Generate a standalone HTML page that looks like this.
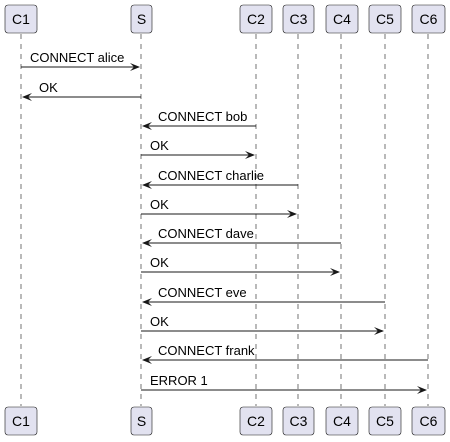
<!DOCTYPE html>
<html><head><style>body{margin:0;background:#fff}svg{display:block}text{font-family:"Liberation Sans",sans-serif;fill:#000}</style></head><body>
<svg width="450" height="442" xmlns="http://www.w3.org/2000/svg">
<defs>
<g id="ar"><polygon points="0,0 -10,-4 -6,0 -10,4" fill="#181818"/></g>
<g id="al"><polygon points="0,0 10,-4 6,0 10,4" fill="#181818"/></g>
</defs>
<g stroke="#181818" stroke-width="0.6" stroke-dasharray="5,5">
<line x1="21" y1="34" x2="21" y2="406"/><line x1="141" y1="34" x2="141" y2="406"/>
<line x1="256" y1="34" x2="256" y2="406"/><line x1="298" y1="34" x2="298" y2="406"/>
<line x1="341" y1="34" x2="341" y2="406"/><line x1="385" y1="34" x2="385" y2="406"/>
<line x1="428" y1="34" x2="428" y2="406"/>
</g>
<g fill="#E2E2F0" stroke="#181818" stroke-width="0.6">
<rect x="5" y="5" width="32" height="28" rx="3"/><rect x="131" y="5" width="21" height="28" rx="3"/>
<rect x="240" y="5" width="32" height="28" rx="3"/><rect x="283" y="5" width="31" height="28" rx="3"/>
<rect x="326" y="5" width="32" height="28" rx="3"/><rect x="369" y="5" width="32" height="28" rx="3"/>
<rect x="412" y="5" width="33" height="28" rx="3"/>
<rect x="5" y="407" width="32" height="28" rx="3"/><rect x="131" y="407" width="21" height="28" rx="3"/>
<rect x="240" y="407" width="32" height="28" rx="3"/><rect x="283" y="407" width="31" height="28" rx="3"/>
<rect x="326" y="407" width="32" height="28" rx="3"/><rect x="369" y="407" width="32" height="28" rx="3"/>
<rect x="412" y="407" width="33" height="28" rx="3"/>
</g>
<g font-size="14" text-anchor="middle">
<text x="21" y="24">C1</text><text x="141.5" y="24">S</text><text x="256" y="24">C2</text><text x="298.5" y="24">C3</text><text x="342" y="24">C4</text><text x="385" y="24">C5</text><text x="428.5" y="24">C6</text>
<text x="21" y="426">C1</text><text x="141.5" y="426">S</text><text x="256" y="426">C2</text><text x="298.5" y="426">C3</text><text x="342" y="426">C4</text><text x="385" y="426">C5</text><text x="428.5" y="426">C6</text>
</g>
<g stroke="#181818" stroke-width="1">
<line x1="21" y1="67" x2="139" y2="67"/><line x1="23" y1="97" x2="141" y2="97"/>
<line x1="143" y1="126" x2="256" y2="126"/><line x1="141" y1="155" x2="254" y2="155"/>
<line x1="143" y1="185" x2="298" y2="185"/><line x1="141" y1="214" x2="296" y2="214"/>
<line x1="143" y1="243" x2="341" y2="243"/><line x1="141" y1="272" x2="339" y2="272"/>
<line x1="143" y1="302" x2="385" y2="302"/><line x1="141" y1="331" x2="383" y2="331"/>
<line x1="143" y1="360" x2="428" y2="360"/><line x1="141" y1="390" x2="426" y2="390"/>
</g>
<use href="#ar" x="140" y="67"/><use href="#al" x="22" y="97"/>
<use href="#al" x="142" y="126"/><use href="#ar" x="255" y="155"/>
<use href="#al" x="142" y="185"/><use href="#ar" x="297" y="214"/>
<use href="#al" x="142" y="243"/><use href="#ar" x="340" y="272"/>
<use href="#al" x="142" y="302"/><use href="#ar" x="384" y="331"/>
<use href="#al" x="142" y="360"/><use href="#ar" x="427" y="390"/>
<g font-size="13">
<text x="30" y="62">CONNECT alice</text><text x="39" y="92">OK</text>
<text x="158" y="121">CONNECT bob</text><text x="150" y="150">OK</text>
<text x="158" y="180">CONNECT charlie</text><text x="150" y="209">OK</text>
<text x="158" y="238">CONNECT dave</text><text x="150" y="267">OK</text>
<text x="158" y="297">CONNECT eve</text><text x="150" y="326">OK</text>
<text x="158" y="355">CONNECT frank</text><text x="150" y="385">ERROR 1</text>
</g>
</svg>
</body></html>
